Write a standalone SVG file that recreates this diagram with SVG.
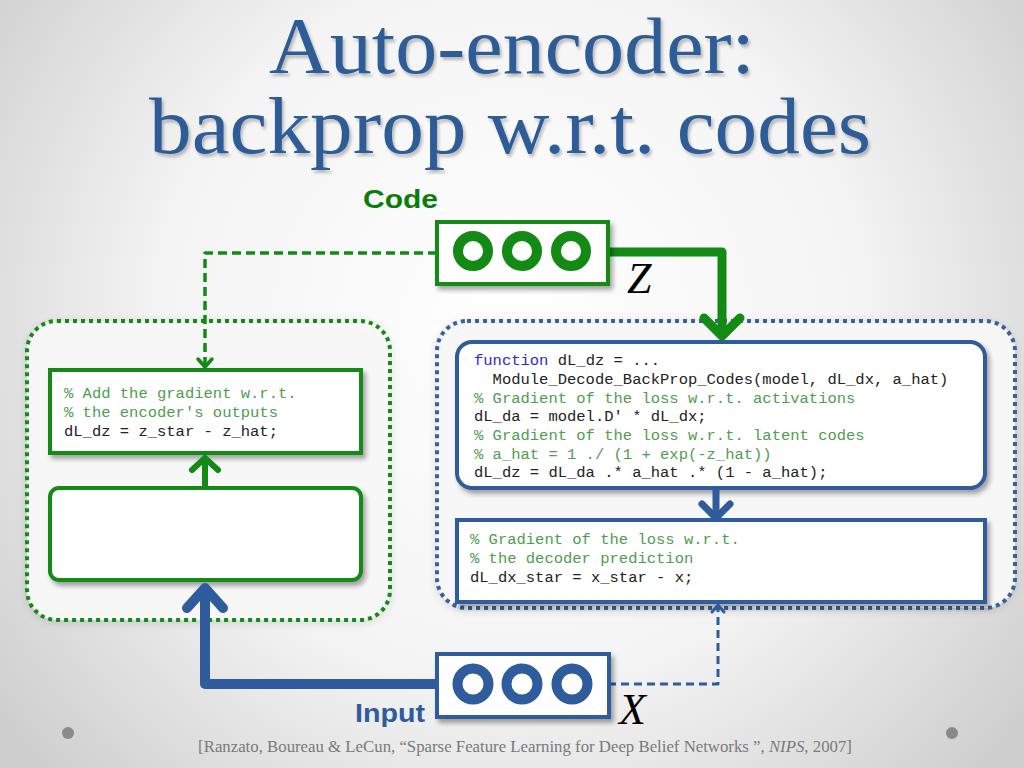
<svg xmlns="http://www.w3.org/2000/svg" width="1024" height="768" viewBox="0 0 1024 768">
<defs>
<radialGradient id="bg" cx="512" cy="330" r="640" gradientUnits="userSpaceOnUse">
<stop offset="0" stop-color="#ffffff"/>
<stop offset="0.55" stop-color="#f4f4f4"/>
<stop offset="1" stop-color="#cfcfcf"/>
</radialGradient>
<filter id="sh" x="-10%" y="-10%" width="130%" height="140%">
<feGaussianBlur in="SourceAlpha" stdDeviation="2.5"/>
<feOffset dx="3" dy="4" result="b"/>
<feComponentTransfer><feFuncA type="linear" slope="0.35"/></feComponentTransfer>
<feMerge><feMergeNode/><feMergeNode in="SourceGraphic"/></feMerge>
</filter>
<filter id="glow" x="-10%" y="-10%" width="120%" height="120%">
<feGaussianBlur in="SourceAlpha" stdDeviation="5"/>
<feOffset dx="0" dy="2"/>
<feComponentTransfer><feFuncA type="linear" slope="0.12"/></feComponentTransfer>
<feMerge><feMergeNode/><feMergeNode in="SourceGraphic"/></feMerge>
</filter>
<filter id="tsh" x="-5%" y="-5%" width="110%" height="120%">
<feGaussianBlur in="SourceAlpha" stdDeviation="1.5"/>
<feOffset dx="2" dy="3"/>
<feComponentTransfer><feFuncA type="linear" slope="0.25"/></feComponentTransfer>
<feMerge><feMergeNode/><feMergeNode in="SourceGraphic"/></feMerge>
</filter>
<marker id="gBig" markerUnits="userSpaceOnUse" viewBox="-30 -30 60 60" markerWidth="60" markerHeight="60" refX="0" refY="0" orient="auto" overflow="visible">
<path d="M-18,-18 L0,0 L-18,18" fill="none" stroke="#138a13" stroke-width="9" stroke-linecap="round" stroke-linejoin="round"/>
</marker>
<marker id="gMid" markerUnits="userSpaceOnUse" viewBox="-30 -30 60 60" markerWidth="60" markerHeight="60" refX="0" refY="0" orient="auto" overflow="visible">
<path d="M-12,-13 L0,0 L-12,13" fill="none" stroke="#138a13" stroke-width="6" stroke-linecap="round" stroke-linejoin="round"/>
</marker>
<marker id="gSm" markerUnits="userSpaceOnUse" viewBox="-30 -30 60 60" markerWidth="60" markerHeight="60" refX="0" refY="0" orient="auto" overflow="visible">
<path d="M-8,-7 L0,0 L-8,7" fill="none" stroke="#138a13" stroke-width="3.5" stroke-linecap="round" stroke-linejoin="round"/>
</marker>
<marker id="bBig" markerUnits="userSpaceOnUse" viewBox="-30 -30 60 60" markerWidth="60" markerHeight="60" refX="0" refY="0" orient="auto" overflow="visible">
<path d="M-20,-18 L0,0 L-20,18" fill="none" stroke="#2f5c9c" stroke-width="10" stroke-linecap="round" stroke-linejoin="round"/>
</marker>
<marker id="bMid" markerUnits="userSpaceOnUse" viewBox="-30 -30 60 60" markerWidth="60" markerHeight="60" refX="0" refY="0" orient="auto" overflow="visible">
<path d="M-14,-14 L0,0 L-14,14" fill="none" stroke="#2f5c9c" stroke-width="7" stroke-linecap="round" stroke-linejoin="round"/>
</marker>
<marker id="bSm" markerUnits="userSpaceOnUse" viewBox="-30 -30 60 60" markerWidth="60" markerHeight="60" refX="0" refY="0" orient="auto" overflow="visible">
<path d="M-7,-6 L0,0 L-7,6" fill="none" stroke="#2f5c9c" stroke-width="3" stroke-linecap="round" stroke-linejoin="round"/>
</marker>
</defs>
<style>
.title{font-family:"Liberation Serif","Times New Roman",serif;font-size:80px;fill:#2f5b97;text-anchor:middle}
.lbl{font-family:"Liberation Sans",Arial,sans-serif;font-weight:bold}
.var{font-family:"Liberation Serif","Times New Roman",serif;font-style:italic;font-size:44px;fill:#000}
.code{font-family:"Liberation Mono","Courier New",monospace;font-size:15.5px;fill:#222;white-space:pre}
.cm{fill:#4f9d4f}
.kw{fill:#2a2ad0}
.gbox{fill:#ffffff;stroke:#138a13;stroke-width:4}
.bbox{fill:#ffffff;stroke:#2f5c9c;stroke-width:4}
.gcirc{fill:none;stroke:#138a13;stroke-width:10}
.bcirc{fill:none;stroke:#2f5c9c;stroke-width:10}
.gdot{fill:#f7f7f7;stroke:#138a13;stroke-width:4;stroke-dasharray:4 4}
.bdot{fill:#f7f7f7;stroke:#3a5fa0;stroke-width:4;stroke-dasharray:4 4}
.cite{font-family:"Liberation Serif","Times New Roman",serif;font-size:16.8px;fill:#7a7a7a;text-anchor:middle}
</style>
<rect x="0" y="0" width="1024" height="768" fill="url(#bg)"/>
<g id="title" filter="url(#tsh)">
<text class="title" x="512" y="73" textLength="486" lengthAdjust="spacingAndGlyphs">Auto-encoder:</text>
<text class="title" x="510" y="153" textLength="722" lengthAdjust="spacingAndGlyphs">backprop w.r.t. codes</text>
</g>
<g id="encoder-group">
<rect class="gdot" x="27" y="321" width="363" height="299" rx="30" filter="url(#glow)"/>
</g>
<g id="decoder-group">
<rect class="bdot" x="437" y="321" width="578" height="287" rx="30" filter="url(#glow)"/>
</g>
<g id="encoder-grad-box">
<rect class="gbox" x="50" y="370" width="311" height="83" filter="url(#sh)"/>
<text class="code" x="64" y="398"><tspan class="cm">% Add the gradient w.r.t.</tspan></text>
<text class="code" x="64" y="417"><tspan class="cm">% the encoder's outputs</tspan></text>
<text class="code" x="64" y="436">dL_dz = z_star - z_hat;</text>
</g>
<g id="encoder-box">
<rect class="gbox" x="50" y="488" width="311" height="92" rx="9" stroke-width="5" filter="url(#sh)"/>
</g>
<g id="decoder-backprop-box">
<rect class="bbox" x="457" y="342" width="528" height="146" rx="15" filter="url(#sh)"/>
<text class="code" x="474" y="365"><tspan class="kw">function</tspan> dL_dz = ...</text>
<text class="code" x="474" y="384">  Module_Decode_BackProp_Codes(model, dL_dx, a_hat)</text>
<text class="code" x="474" y="403"><tspan class="cm">% Gradient of the loss w.r.t. activations</tspan></text>
<text class="code" x="474" y="421">dL_da = model.D' * dL_dx;</text>
<text class="code" x="474" y="440"><tspan class="cm">% Gradient of the loss w.r.t. latent codes</tspan></text>
<text class="code" x="474" y="459"><tspan class="cm">% a_hat = 1 ./ (1 + exp(-z_hat))</tspan></text>
<text class="code" x="474" y="477">dL_dz = dL_da .* a_hat .* (1 - a_hat);</text>
</g>
<g id="decoder-loss-box">
<rect class="bbox" x="457" y="520" width="528" height="82" filter="url(#sh)"/>
<text class="code" x="470" y="544"><tspan class="cm">% Gradient of the loss w.r.t.</tspan></text>
<text class="code" x="470" y="563"><tspan class="cm">% the decoder prediction</tspan></text>
<text class="code" x="470" y="582">dL_dx_star = x_star - x;</text>
</g>
<g id="connectors" fill="none" stroke-linejoin="round">
<path d="M608,252 H722 V336" stroke="#138a13" stroke-width="9" marker-end="url(#gBig)"/>
<path d="M437,253 H205 V367" stroke="#138a13" stroke-width="3.5" stroke-dasharray="9 5" marker-end="url(#gSm)"/>
<path d="M205,488 V458" stroke="#138a13" stroke-width="6" marker-end="url(#gMid)"/>
<path d="M437,684 H205 V588" stroke="#2f5c9c" stroke-width="10" marker-end="url(#bBig)"/>
<path d="M716,488 V518" stroke="#2f5c9c" stroke-width="7" marker-end="url(#bMid)"/>
<path d="M608,684 H718 V605" stroke="#2f5c9c" stroke-width="3" stroke-dasharray="8 5" marker-end="url(#bSm)"/>
</g>
<g id="code-node">
<text class="lbl" x="363" y="208" font-size="25" fill="#0b7d0b" textLength="75" lengthAdjust="spacingAndGlyphs">Code</text>
<rect class="gbox" x="437" y="222" width="171" height="62" filter="url(#sh)"/>
<circle class="gcirc" cx="473" cy="251" r="15"/>
<circle class="gcirc" cx="522" cy="251" r="15"/>
<circle class="gcirc" cx="571" cy="251" r="15"/>
<text class="var" x="627" y="293">Z</text>
</g>
<g id="input-node">
<text class="lbl" x="355" y="722" font-size="26" fill="#2f5c9c" textLength="70" lengthAdjust="spacingAndGlyphs">Input</text>
<rect class="bbox" x="437" y="654" width="172" height="63" filter="url(#sh)"/>
<circle class="bcirc" cx="473" cy="684" r="15.5"/>
<circle class="bcirc" cx="522" cy="684" r="15.5"/>
<circle class="bcirc" cx="572" cy="684" r="15.5"/>
<text class="var" x="619" y="724">X</text>
</g>
<g id="citation">
<text class="cite" x="525" y="752">[Ranzato, Boureau &amp; LeCun, “Sparse Feature Learning for Deep Belief Networks ”, <tspan font-style="italic">NIPS</tspan>, 2007]</text>
</g>
<circle cx="68" cy="733" r="6" fill="#8a8a8a"/>
<circle cx="952" cy="733" r="6" fill="#8a8a8a"/>
</svg>
